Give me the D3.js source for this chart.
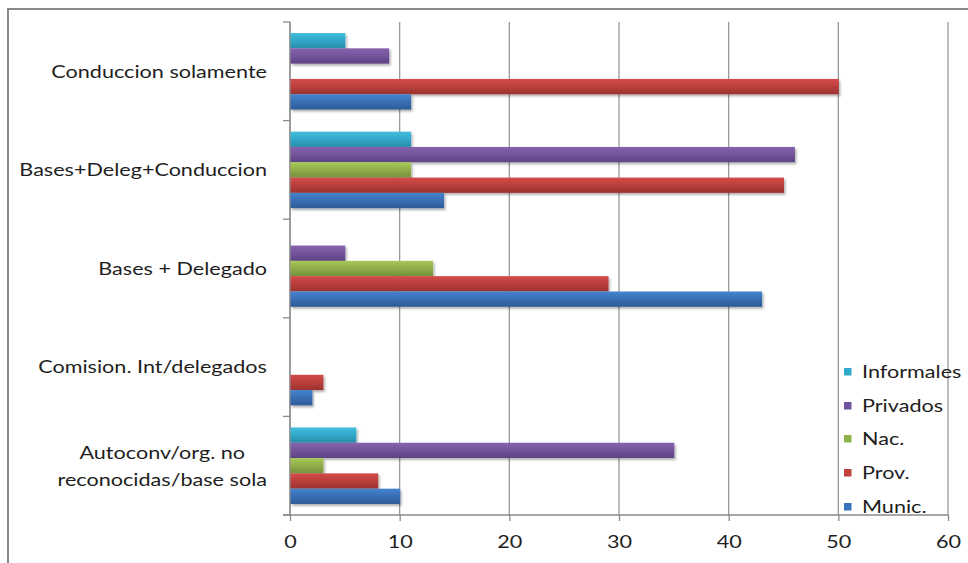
<!DOCTYPE html>
<html>
<head>
<meta charset="utf-8">
<script src="https://cdn.jsdelivr.net/npm/d3@7"></script>
<style>
  html, body { margin: 0; padding: 0; background: #fff; }
  svg text { font-family: Lato, "Open Sans", sans-serif; fill: #1e1e1e; }
</style>
</head>
<body>
<svg id="chart" width="968" height="563"></svg>
<script>
// Categories, listed top to bottom
const categories = [
  "Conduccion solamente",
  "Bases+Deleg+Conduccion",
  "Bases + Delegado",
  "Comision. Int/delegados",
  "Autoconv/org. no\nreconocidas/base sola"
];

// Series, listed top to bottom inside each group
const seriesNames = ["Informales", "Privados", "Nac.", "Prov.", "Munic."];

const informales = [5, 11, 0, 0, 6];
const privados   = [9, 46, 5, 0, 35];
const nac        = [0, 11, 13, 0, 3];
const prov       = [50, 45, 29, 3, 8];
const munic      = [11, 14, 43, 2, 10];

const seriesValues = [informales, privados, nac, prov, munic];

const xTicks = [0, 10, 20, 30, 40, 50, 60];

// Gradient colours per series: [top, middle, bottom]
const seriesColors = [
  ["#45bedd", "#31aacb", "#2a8ca8"],
  ["#8563ad", "#74559c", "#5d4482"],
  ["#a6c85a", "#92b04a", "#74923a"],
  ["#d24c49", "#be403d", "#9a3331"],
  ["#4684cf", "#3a70b6", "#2d5b96"]
];
const legendColors = ["#2fa9c9", "#7152a0", "#8db34a", "#c0413e", "#3a72bb"];

// Labels are drawn slightly wide
const stretch = 1.2;

const svg = d3.select("#chart");
const defs = svg.append("defs");

seriesColors.forEach((c, i) => {
  const g = defs.append("linearGradient")
    .attr("id", "grad" + i)
    .attr("x1", 0).attr("y1", 0).attr("x2", 0).attr("y2", 1);
  g.append("stop").attr("offset", "0%").attr("stop-color", c[0]);
  g.append("stop").attr("offset", "45%").attr("stop-color", c[1]);
  g.append("stop").attr("offset", "100%").attr("stop-color", c[2]);
});

const shadow = defs.append("filter").attr("id", "shadow")
  .attr("x", "-5%").attr("y", "-30%").attr("width", "115%").attr("height", "180%");
shadow.append("feDropShadow")
  .attr("dx", 1.5).attr("dy", 2).attr("stdDeviation", 1.3)
  .attr("flood-color", "#000").attr("flood-opacity", 0.3);

// Outer frame (top and left edges)
svg.append("path")
  .attr("d", "M8,563 L8,9 L968,9")
  .attr("fill", "none").attr("stroke", "#8a8a8a").attr("stroke-width", 2);

const plotLeft = 290, plotRight = 948, plotTop = 22, plotBottom = 515;

const x = d3.scaleLinear().domain([0, 60]).range([plotLeft, plotRight]);
const y = d3.scaleBand().domain(categories).range([plotTop, plotBottom]).padding(0);
const yInner = d3.scaleBand().domain(seriesNames)
  .range([0, y.bandwidth()]).paddingInner(0).paddingOuter(0.72);

// Vertical gridlines
svg.append("g").selectAll("line")
  .data(xTicks)
  .join("line")
  .attr("x1", d => x(d)).attr("x2", d => x(d))
  .attr("y1", plotTop).attr("y2", plotBottom)
  .attr("stroke", "#9a9a9a").attr("stroke-width", 1.3);

// Bottom axis
const xAxis = svg.append("g")
  .attr("transform", `translate(0,${plotBottom})`)
  .call(d3.axisBottom(x).tickValues(xTicks).tickSize(6).tickPadding(14).tickSizeOuter(0));
xAxis.select(".domain").remove();
xAxis.selectAll(".tick line").attr("stroke", "#8a8a8a").attr("stroke-width", 1.3);
xAxis.selectAll(".tick text")
  .attr("font-size", 18).style("font-family", "Lato, sans-serif").attr("fill", "#1e1e1e")
  .attr("transform", `scale(${stretch},1)`)
  .attr("x", 0);
svg.append("line")
  .attr("x1", 283).attr("x2", plotRight)
  .attr("y1", plotBottom).attr("y2", plotBottom)
  .attr("stroke", "#8a8a8a").attr("stroke-width", 1.3);

// Left axis with category separators
svg.append("line")
  .attr("x1", plotLeft).attr("x2", plotLeft)
  .attr("y1", plotTop).attr("y2", plotBottom)
  .attr("stroke", "#8a8a8a").attr("stroke-width", 1.3);
const bounds = categories.map(c => y(c)).concat([plotBottom]);
svg.append("g").selectAll("line")
  .data(bounds)
  .join("line")
  .attr("x1", 283).attr("x2", plotLeft)
  .attr("y1", d => d).attr("y2", d => d)
  .attr("stroke", "#8a8a8a").attr("stroke-width", 1.3);

// Bars
const barData = [];
categories.forEach((c, ci) => {
  seriesNames.forEach((s, si) => {
    barData.push({ cat: c, series: s, si, value: seriesValues[si][ci] });
  });
});

svg.append("g").selectAll("rect")
  .data(barData.filter(d => d.value > 0))
  .join("rect")
  .attr("x", x(0) + 0.5)
  .attr("y", d => y(d.cat) + yInner(d.series))
  .attr("width", d => x(d.value) - x(0))
  .attr("height", yInner.bandwidth())
  .attr("fill", d => `url(#grad${d.si})`)
  .attr("filter", "url(#shadow)");

// Category labels: block right-aligned, lines centred within the block
const labelRight = 267;
categories.forEach(c => {
  const lines = c.split("\n");
  const cy = y(c) + y.bandwidth() / 2;
  const lh = 27;
  const texts = lines.map((ln, i) => {
    const g = svg.append("g");
    const t = g.append("text")
      .attr("font-size", 18)
      .attr("dy", "0.35em")
      .attr("text-anchor", "middle")
      .text(ln);
    return { g, t, yy: cy + (i - (lines.length - 1) / 2) * lh };
  });
  const maxW = d3.max(texts, d => d.t.node().getComputedTextLength()) * stretch;
  texts.forEach(d => d.g.attr("transform",
    `translate(${labelRight - maxW / 2},${d.yy}) scale(${stretch},1)`));
});

// Legend
const legendY = [372, 406, 439, 473, 507];
const legend = svg.append("g");
seriesNames.forEach((s, i) => {
  legend.append("rect")
    .attr("x", 844).attr("y", legendY[i] - 4)
    .attr("width", 7.5).attr("height", 7.5)
    .attr("fill", legendColors[i]);
  legend.append("g")
    .attr("transform", `translate(862,${legendY[i]}) scale(${stretch},1)`)
    .append("text")
    .attr("dy", "0.35em")
    .attr("font-size", 18)
    .text(s);
});
</script>
</body>
</html>
